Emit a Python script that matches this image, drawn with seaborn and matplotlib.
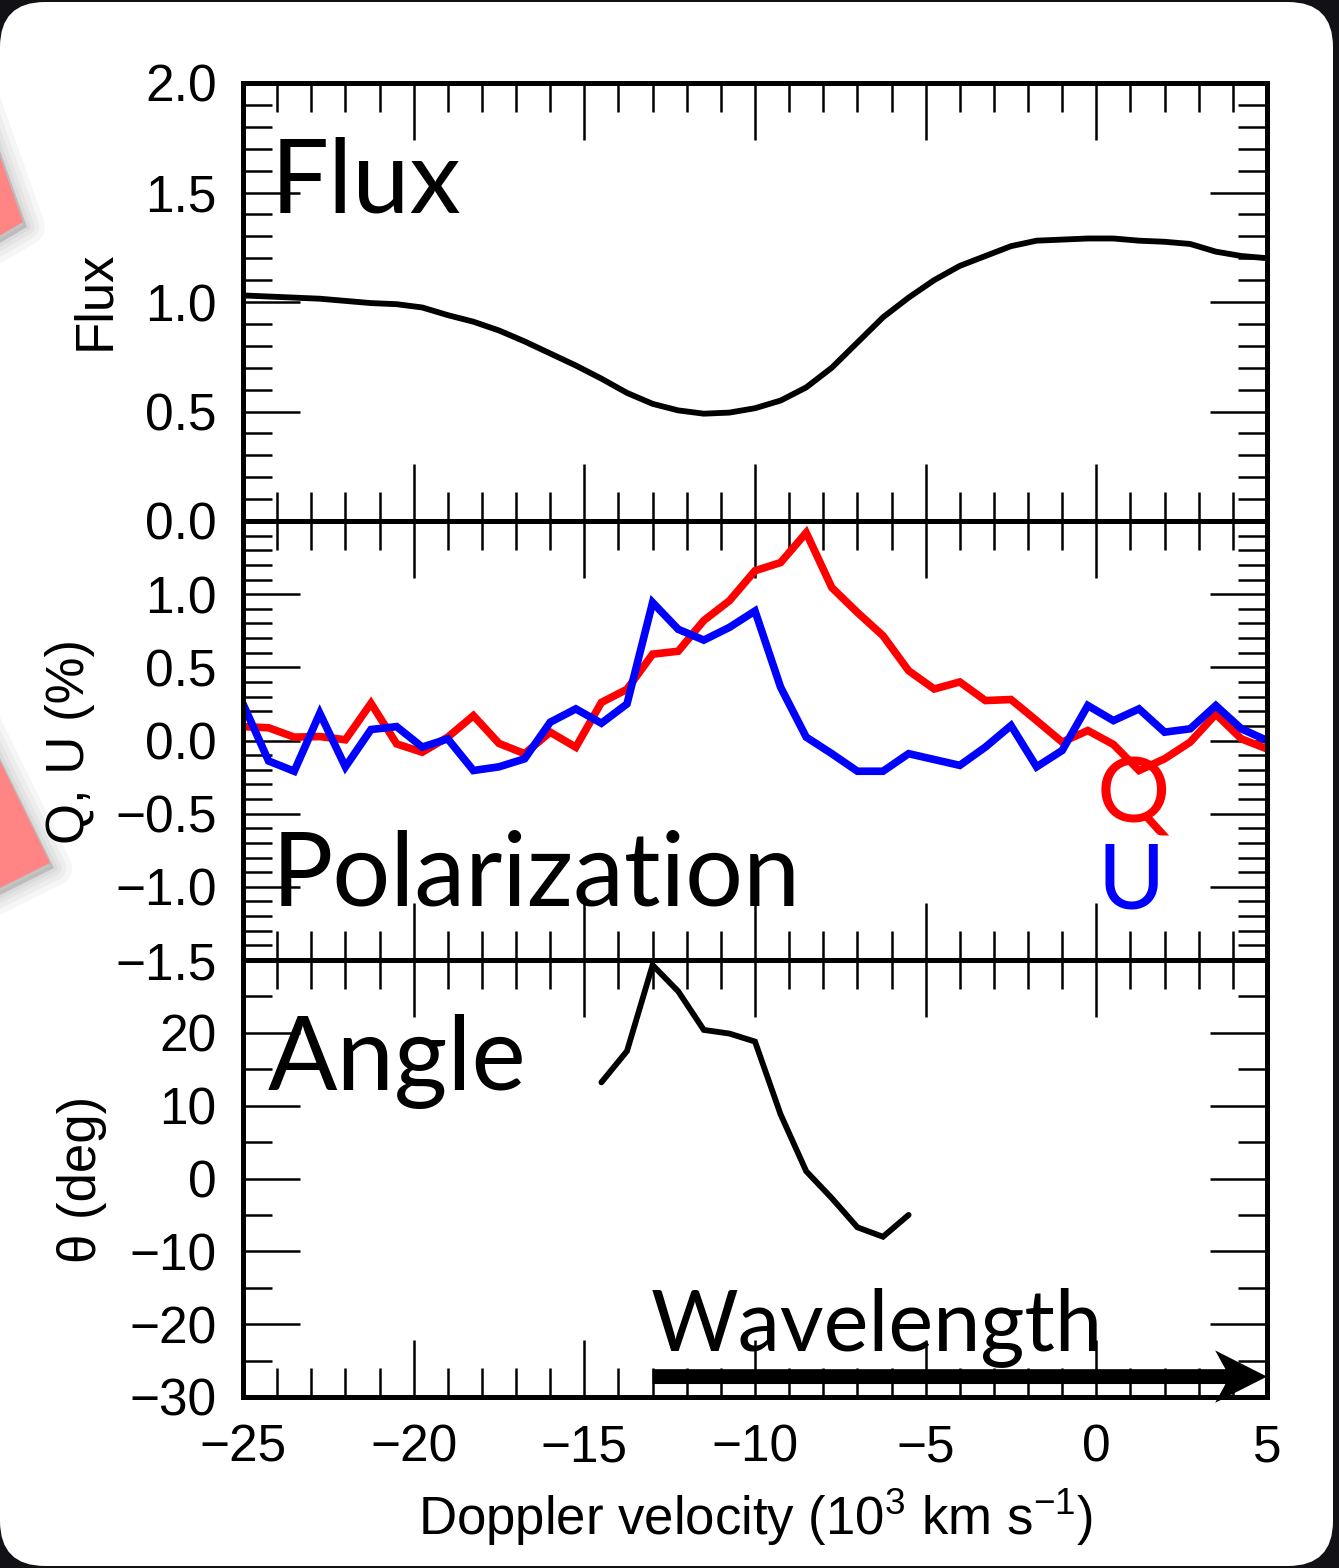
import numpy as np
import pandas as pd
import matplotlib
matplotlib.use("Agg")
import matplotlib.pyplot as plt
import seaborn as sns
from matplotlib.ticker import MultipleLocator
from matplotlib.patches import FancyBboxPatch, Polygon
from matplotlib.transforms import IdentityTransform

# ---------------------------------------------------------------- data
velocity = [-25.0, -24.25, -23.5, -22.75, -22.0, -21.25, -20.5, -19.75, -19.0, -18.25,
            -17.5, -16.75, -16.0, -15.25, -14.5, -13.75, -13.0, -12.25, -11.5, -10.75,
            -10.0, -9.25, -8.5, -7.75, -7.0, -6.25, -5.5, -4.75, -4.0, -3.25,
            -2.5, -1.75, -1.0, -0.25, 0.5, 1.25, 2.0, 2.75, 3.5, 4.25, 5.0]

flux = [1.03, 1.025, 1.02, 1.015, 1.005, 0.995, 0.99, 0.975, 0.94, 0.91,
        0.87, 0.82, 0.765, 0.71, 0.65, 0.585, 0.535, 0.505, 0.49, 0.495,
        0.515, 0.55, 0.61, 0.70, 0.815, 0.93, 1.02, 1.10, 1.165, 1.21,
        1.255, 1.28, 1.285, 1.29, 1.29, 1.28, 1.275, 1.265, 1.23, 1.21, 1.20]

stokes_q = [0.095, 0.087, 0.023, 0.027, 0.005, 0.254, -0.023, -0.08, 0.023, 0.17,
            -0.02, -0.09, 0.057, -0.046, 0.26, 0.35, 0.59, 0.61, 0.82, 0.955,
            1.16, 1.216, 1.42, 1.045, 0.875, 0.716, 0.477, 0.352, 0.40, 0.273,
            0.28, 0.136, -0.011, 0.068, -0.027, -0.205, -0.125, -0.011, 0.18, 0.011, -0.057]

stokes_u = [0.25, -0.14, -0.21, 0.186, -0.18, 0.075, 0.095, -0.045, 0.011, -0.205,
            -0.18, -0.125, 0.125, 0.216, 0.118, 0.25, 0.943, 0.76, 0.686, 0.773,
            0.885, 0.364, 0.023, -0.09, -0.21, -0.21, -0.09, -0.13, -0.17, -0.045,
            0.102, -0.18, -0.068, 0.239, 0.136, 0.216, 0.057, 0.08, 0.239, 0.08, 0.0]

angle_velocity = [-14.5, -13.75, -13.0, -12.25, -11.5, -10.75, -10.0, -9.25, -8.5,
                  -7.75, -7.0, -6.25, -5.5]
angle_theta = [13.2, 17.5, 29.3, 25.7, 20.4, 19.9, 18.8, 8.8, 1.0, -2.7, -6.7, -8.0, -5.0]

x_ticks = [-25, -20, -15, -10, -5, 0, 5]
x_labels = ["\u221225", "\u221220", "\u221215", "\u221210", "\u22125", "0", "5"]
flux_ticks = [0.0, 0.5, 1.0, 1.5, 2.0]
flux_labels = ["0.0", "0.5", "1.0", "1.5", "2.0"]
pol_ticks = [-1.5, -1.0, -0.5, 0.0, 0.5, 1.0, 1.5]
pol_labels = ["\u22121.5", "\u22121.0", "\u22120.5", "0.0", "0.5", "1.0", ""]
ang_ticks = [-30, -20, -10, 0, 10, 20, 30]
ang_labels = ["\u221230", "\u221220", "\u221210", "0", "10", "20", ""]

spec = pd.DataFrame({"v": velocity, "flux": flux, "Q": stokes_q, "U": stokes_u})
ang = pd.DataFrame({"v": angle_velocity, "theta": angle_theta})

# ---------------------------------------------------------------- style
sns.set_theme(style="ticks")
plt.rcParams["font.family"] = ["Liberation Sans", "DejaVu Sans"]
plt.rcParams["text.color"] = "black"
plt.rcParams["axes.labelcolor"] = "black"
plt.rcParams["xtick.color"] = "black"
plt.rcParams["ytick.color"] = "black"
plt.rcParams["mathtext.fontset"] = "custom"
plt.rcParams["mathtext.rm"] = "Liberation Sans"
plt.rcParams["mathtext.it"] = "Liberation Sans:italic"
plt.rcParams["mathtext.bf"] = "Liberation Sans:bold"

W, H = 1339, 1568
fig = plt.figure(figsize=(W / 100, H / 100), dpi=100)
fig.patch.set_facecolor("#111116")

# rounded white card behind the plot
card = FancyBboxPatch((0, 2), 1333, 1564, boxstyle="round,pad=0,rounding_size=45",
                      transform=IdentityTransform(), facecolor="white",
                      edgecolor="none", zorder=-5)
fig.patches.append(card)

# pink tabs peeking in from the left edge, with soft shadows
def tab(points):
    pts = [(x, H - y) for x, y in points]
    shadow = [(x + 4, y - 5) for x, y in pts]
    for lw in (26, 18, 11, 5):
        fig.patches.append(Polygon(shadow, closed=True, transform=IdentityTransform(),
                                   facecolor=(0, 0, 0, 0.035), edgecolor=(0, 0, 0, 0.035),
                                   linewidth=lw, joinstyle="round", zorder=-4))
    fig.patches.append(Polygon(pts, closed=True, transform=IdentityTransform(),
                               facecolor="#FF8585", edgecolor="none", zorder=-3))

tab([(-30, 72), (23, 222), (-30, 253)])
tab([(-30, 700), (50, 863), (-30, 903)])

left, width = 243 / W, 1024 / W
ax_f = fig.add_axes([left, 1 - 521 / H, width, 438 / H])
ax_p = fig.add_axes([left, 1 - 960 / H, width, 439 / H])
ax_a = fig.add_axes([left, 1 - 1397 / H, width, 437 / H])

sns.lineplot(data=spec, x="v", y="flux", ax=ax_f, color="black", linewidth=4.2,
             solid_joinstyle="miter")
sns.lineplot(data=spec, x="v", y="Q", ax=ax_p, color="#FF0000", linewidth=5.5,
             solid_joinstyle="miter")
sns.lineplot(data=spec, x="v", y="U", ax=ax_p, color="#0000FF", linewidth=5.5,
             solid_joinstyle="miter")
sns.lineplot(data=ang, x="v", y="theta", ax=ax_a, color="black", linewidth=4.2,
             solid_joinstyle="miter")


def style(ax, yticks, ylabels, minor, ylim):
    ax.set_xlim(-25, 5)
    ax.set_ylim(*ylim)
    ax.set_xticks(x_ticks)
    ax.set_xticklabels(x_labels)
    ax.xaxis.set_minor_locator(MultipleLocator(1))
    ax.set_yticks(yticks)
    ax.set_yticklabels(ylabels)
    ax.yaxis.set_minor_locator(MultipleLocator(minor))
    ax.tick_params(which="both", direction="in", top=True, right=True,
                   width=1.8, color="black", labelsize=37, pad=19, labelcolor="black")
    ax.tick_params(which="major", length=41)
    ax.tick_params(which="minor", length=21)
    for s in ax.spines.values():
        s.set_linewidth(3.6)
        s.set_color("black")
    ax.set_facecolor("none")
    ax.set_xlabel("")


style(ax_f, flux_ticks, flux_labels, 0.1, (0, 2))
style(ax_p, pol_ticks, pol_labels, 0.1, (-1.5, 1.5))
style(ax_a, ang_ticks, ang_labels, 5, (-30, 30))
ax_f.tick_params(labelbottom=False)
ax_p.tick_params(labelbottom=False)

ax_f.set_ylabel("Flux", fontsize=38)
ax_f.yaxis.set_label_coords(-0.1445, 0.505)
ax_p.set_ylabel("Q, U (%)", fontsize=38)
ax_p.yaxis.set_label_coords(-0.169, 0.497)
ax_a.set_ylabel("\u03b8 (deg)", fontsize=38)
ax_a.yaxis.set_label_coords(-0.157, 0.497)
for ax in (ax_f, ax_p, ax_a):
    ax.yaxis.label.set_va("center")

ax_a.set_xlabel(r"Doppler velocity (10$^{3}$ km s$^{-1}$)", fontsize=38)
ax_a.xaxis.set_label_coords(0.5, -0.2746)
ax_a.xaxis.label.set_va("center")

big = ["Lato", "DejaVu Sans"]
ax_f.text(-24.2, 1.41, "Flux", fontsize=74, family=big, color="black",
          ha="left", va="baseline")
ax_p.text(-24.15, -1.125, "Polarization", fontsize=73.5, family=big, color="black",
          ha="left", va="baseline")
ax_a.text(-24.27, 12.2, "Angle", fontsize=74, family=big, color="black",
          ha="left", va="baseline")
ax_a.text(-13.07, -23.5, "Wavelength", fontsize=61, family=big, color="black",
          ha="left", va="baseline")
ax_p.text(1.08, -0.56, "Q", fontsize=66, family=big, color="#FF0000", ha="center", va="baseline")
ax_p.text(1.02, -1.145, "U", fontsize=66, family=big, color="#0000FF", ha="center", va="baseline")

ax_a.arrow(-13.0, -27.2, 18.0, 0, width=2.04, head_width=7.2, head_length=1.52,
           length_includes_head=True, overhang=0.2, facecolor="black",
           edgecolor="black", linewidth=0, clip_on=False, zorder=5)

fig.savefig("out.png", dpi=100, facecolor=fig.get_facecolor())
